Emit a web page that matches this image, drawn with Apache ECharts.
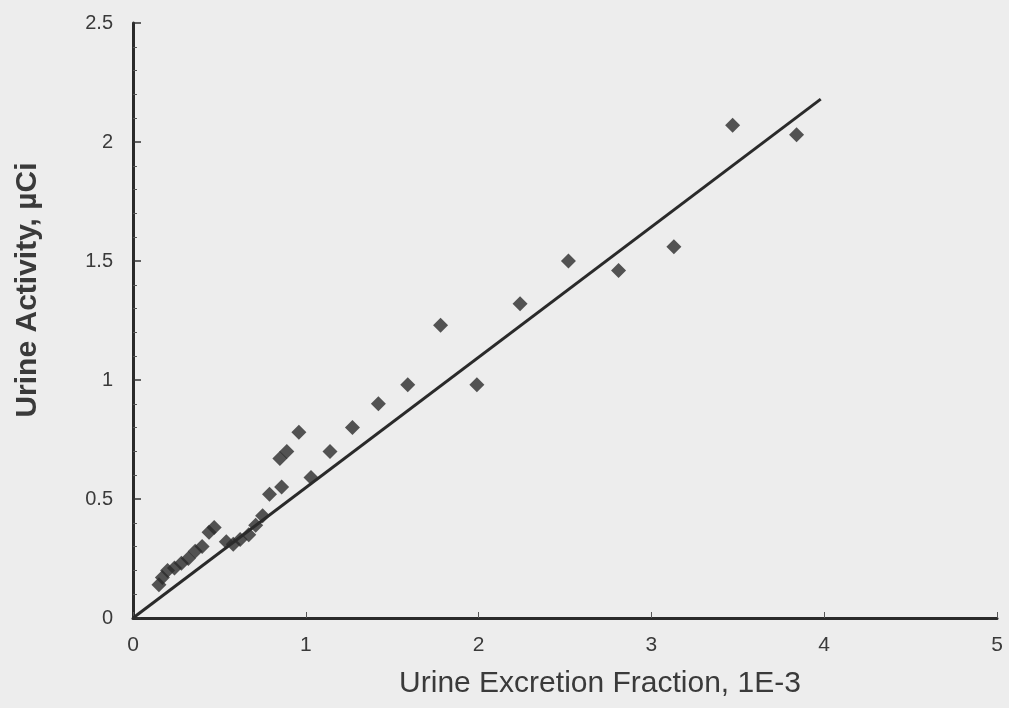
<!DOCTYPE html>
<html><head><meta charset="utf-8">
<script src="https://cdn.jsdelivr.net/npm/echarts@6/dist/echarts.min.js"></script>
<style>html,body{margin:0;padding:0;background:#ededed;}#c{width:1009px;height:708px;}</style>
</head><body><div id="c"></div>
<script>
var pointsX = [0.15,0.17,0.20,0.24,0.28,0.32,0.36,0.40,0.44,0.47,0.54,0.58,0.62,0.67,0.71,0.75,0.79,0.86,0.85,0.89,0.96,1.03,1.14,1.27,1.42,1.59,1.78,1.99,2.24,2.52,2.81,3.13,3.47,3.84];
var pointsY = [0.14,0.17,0.20,0.21,0.23,0.25,0.28,0.30,0.36,0.38,0.32,0.31,0.33,0.35,0.39,0.43,0.52,0.55,0.67,0.70,0.78,0.59,0.70,0.80,0.90,0.98,1.23,0.98,1.32,1.50,1.46,1.56,2.07,2.03];
var fitX = [0, 3.98];
var fitY = [0, 2.18];
var xTitle = 'Urine Excretion Fraction, 1E-3';
var yTitle = 'Urine Activity, µCi';

var scatterData = pointsX.map(function(x,i){return [x, pointsY[i]];});
var fitData = fitX.map(function(x,i){return [x, fitY[i]];});
var font = 'Liberation Sans, Arial, sans-serif';
var chart = echarts.init(document.getElementById('c'));
chart.setOption({
  backgroundColor: '#ededed',
  animation: false,
  grid: {left: 133, right: 12, top: 23, bottom: 90},
  graphic: [
    {type: 'text', x: 600, y: 684, style: {text: xTitle, fontFamily: font, fontSize: 30, fill: '#3a3a3a', align: 'center', verticalAlign: 'middle'}},
    {type: 'text', x: 28, y: 290, rotation: Math.PI / 2, style: {text: yTitle, fontFamily: font, fontSize: 30, fontWeight: 'bold', fill: '#3a3a3a', align: 'center', verticalAlign: 'middle'}}
  ],
  xAxis: {
    type: 'value', min: 0, max: 5, interval: 1,
    axisLine: {lineStyle: {color: '#2a2a2a', width: 3}},
    axisTick: {show: true, inside: true, length: 6, lineStyle: {color: '#555', width: 1}},
    axisLabel: {fontFamily: font, fontSize: 21, color: '#3a3a3a', margin: 17},
    splitLine: {show: false}
  },
  yAxis: {
    type: 'value', min: 0, max: 2.5, interval: 0.5,
    axisLine: {show: true, lineStyle: {color: '#2a2a2a', width: 3}},
    axisTick: {show: true, inside: true, length: 8, lineStyle: {color: '#333', width: 1.5}},
    minorTick: {show: true, splitNumber: 5, length: 4, lineStyle: {color: '#555', width: 1}},
    axisLabel: {fontFamily: font, fontSize: 20, color: '#3a3a3a', margin: 20},
    splitLine: {show: false}
  },
  series: [
    {type: 'line', data: fitData, symbol: 'none', lineStyle: {color: '#2a2a2a', width: 3}, z: 2},
    {type: 'scatter', data: scatterData, symbol: 'diamond', symbolSize: 15, itemStyle: {color: '#2b2b2b'}, z: 3}
  ]
});
</script></body></html>
